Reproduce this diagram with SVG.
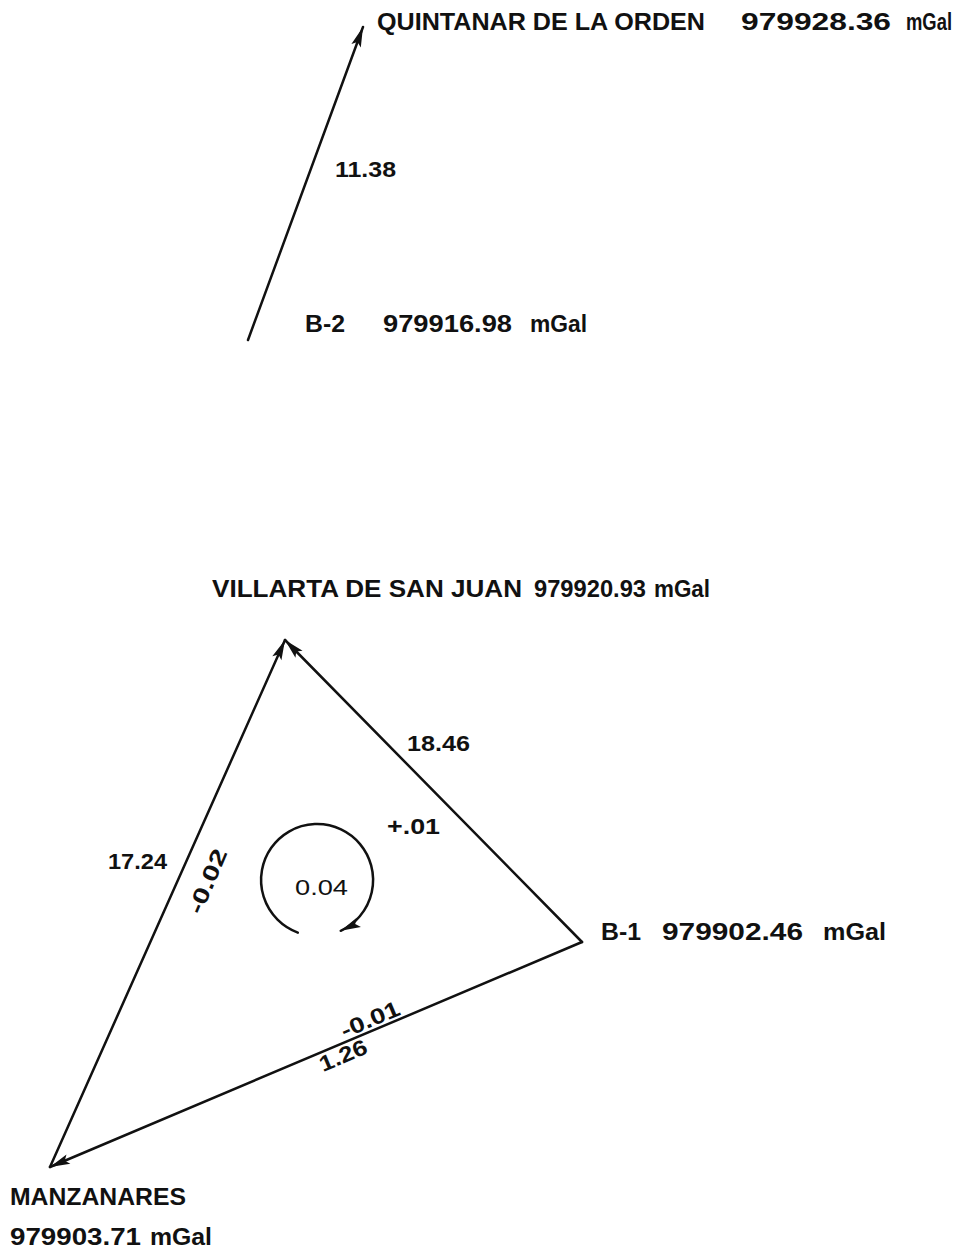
<svg xmlns="http://www.w3.org/2000/svg" width="961" height="1251" viewBox="0 0 961 1251">
<defs>
<marker id="ah" viewBox="-22 -6 24 12" refX="0" refY="0" markerWidth="24" markerHeight="12" markerUnits="userSpaceOnUse" orient="auto">
<path d="M0,0 L-20,-5 L-16,0 L-20,5 Z" fill="#111"/>
</marker>
<style>
.t{font-family:"Liberation Sans","DejaVu Sans",sans-serif;font-weight:bold;font-size:23px;fill:#111}
.s{font-size:22px}
.e{stroke:#111;stroke-width:2.5;fill:none;stroke-linecap:round}
</style>
</defs>
<rect width="961" height="1251" fill="#fff"/>
<g id="connectors">
<line class="e" x1="248" y1="340" x2="363" y2="27" marker-end="url(#ah)"/>
<line class="e" x1="50" y1="1167" x2="285" y2="640" marker-end="url(#ah)"/>
<line class="e" x1="582" y1="942" x2="285" y2="640" marker-end="url(#ah)"/>
<line class="e" x1="582" y1="942" x2="50" y2="1167" marker-end="url(#ah)"/>
<path class="e" d="M297.8,932.6 A56,56 0 1 1 340.7,930.8" marker-end="url(#ah)"/>
</g>
<g id="quintanar">
<text class="t" x="377" y="30" textLength="328" lengthAdjust="spacingAndGlyphs">QUINTANAR DE LA ORDEN</text>
<text class="t" x="741" y="30" textLength="150" lengthAdjust="spacingAndGlyphs">979928.36</text>
<text class="t" x="906" y="30" textLength="46" lengthAdjust="spacingAndGlyphs">mGal</text>
</g>
<g id="b2">
<text class="t" x="305" y="332" textLength="40" lengthAdjust="spacingAndGlyphs">B-2</text>
<text class="t" x="383" y="332" textLength="129" lengthAdjust="spacingAndGlyphs">979916.98</text>
<text class="t" x="530" y="332" textLength="57" lengthAdjust="spacingAndGlyphs">mGal</text>
</g>
<g id="villarta">
<text class="t" x="212" y="597" textLength="310" lengthAdjust="spacingAndGlyphs">VILLARTA DE SAN JUAN</text>
<text class="t" x="534" y="597" textLength="112" lengthAdjust="spacingAndGlyphs">979920.93</text>
<text class="t" x="654" y="597" textLength="56" lengthAdjust="spacingAndGlyphs">mGal</text>
</g>
<g id="b1">
<text class="t" x="601" y="940" textLength="40" lengthAdjust="spacingAndGlyphs">B-1</text>
<text class="t" x="662" y="940" textLength="141" lengthAdjust="spacingAndGlyphs">979902.46</text>
<text class="t" x="823" y="940" textLength="63" lengthAdjust="spacingAndGlyphs">mGal</text>
</g>
<g id="manzanares">
<text class="t" x="10" y="1205" textLength="176" lengthAdjust="spacingAndGlyphs">MANZANARES</text>
<text class="t" x="10" y="1245" textLength="131" lengthAdjust="spacingAndGlyphs">979903.71</text>
<text class="t" x="150" y="1245" textLength="62" lengthAdjust="spacingAndGlyphs">mGal</text>
</g>
<g id="labels">
<text class="t s" x="335" y="177" textLength="61" lengthAdjust="spacingAndGlyphs">11.38</text>
<text class="t s" x="407" y="751" textLength="63" lengthAdjust="spacingAndGlyphs">18.46</text>
<text class="t s" x="387" y="834" textLength="53" lengthAdjust="spacingAndGlyphs">+.01</text>
<text class="t s" x="108" y="869" textLength="59" lengthAdjust="spacingAndGlyphs">17.24</text>
<text class="t s" x="295" y="895" textLength="53" lengthAdjust="spacingAndGlyphs" style="font-weight:normal">0.04</text>
<text class="t s" text-anchor="middle" transform="translate(207,881) rotate(-67)" y="8" textLength="68" lengthAdjust="spacingAndGlyphs">-0.02</text>
<text class="t s" text-anchor="middle" transform="translate(370,1019) rotate(-23)" y="8" textLength="62" lengthAdjust="spacingAndGlyphs">-0.01</text>
<text class="t s" text-anchor="middle" transform="translate(343,1055) rotate(-23)" y="8" textLength="50" lengthAdjust="spacingAndGlyphs">1.26</text>
</g>
</svg>
